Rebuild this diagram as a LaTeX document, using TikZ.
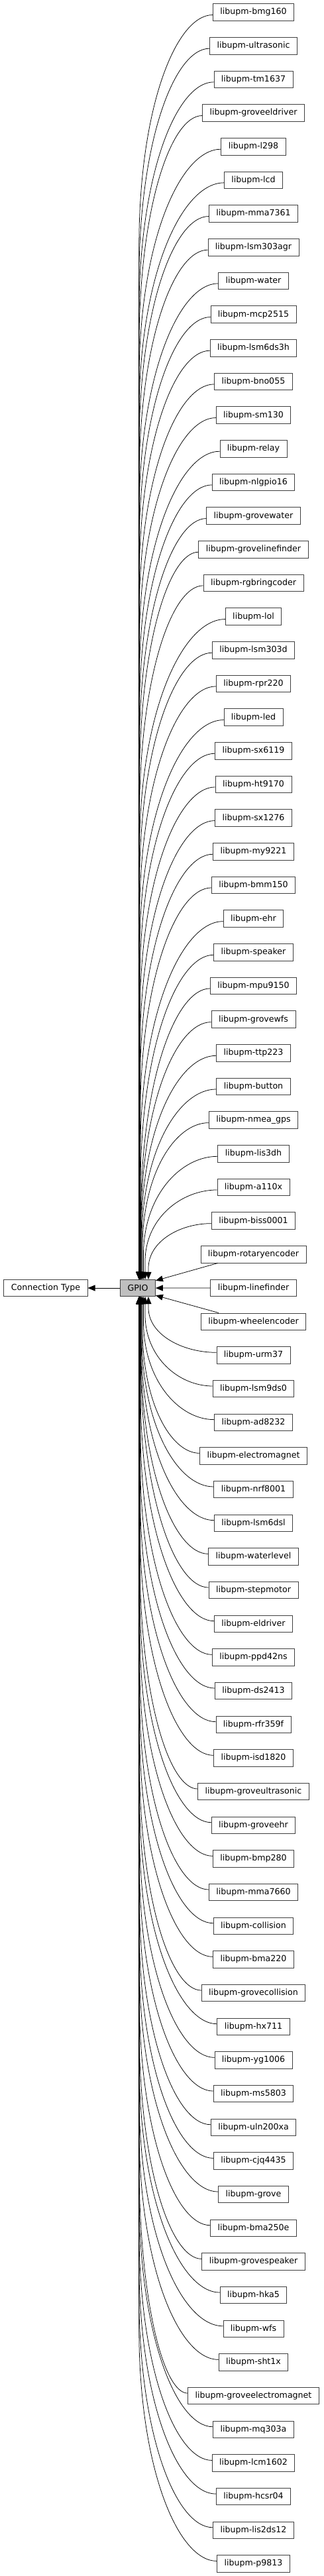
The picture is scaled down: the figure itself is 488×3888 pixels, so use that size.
\documentclass[tikz,border=0pt]{standalone}
\usepackage{fontspec}
\setmainfont{DejaVu Sans}
\usetikzlibrary{calc,arrows.meta}
\begin{document}
\begin{tikzpicture}[x=1pt,y=1pt,
  box/.style={draw=black!75, line width=0.8pt, fill=white, inner xsep=11pt, inner ysep=0pt,
    minimum height=25.5pt, font=\fontsize{12.6}{15}\selectfont, text=black},
  edge/.style={draw=black, line width=0.75pt, -{Triangle[length=11pt,width=9pt]}}]
\useasboundingbox (0,0) rectangle (488,-3888);
\node[box] (ct) at (69,-1944) {Connection Type};
\node[box, fill=black!25] (gpio) at (208,-1944) {GPIO};
\draw[edge] (gpio) -- (ct);
\foreach \nm [count=\i] in {bmg160,ultrasonic,tm1637,groveeldriver,l298,lcd,mma7361,lsm303agr,water,mcp2515,lsm6ds3h,bno055,sm130,relay,nlgpio16,grovewater,grovelinefinder,rgbringcoder,lol,lsm303d,rpr220,led,sx6119,ht9170,sx1276,my9221,bmm150,ehr,speaker,mpu9150,grovewfs,ttp223,button,nmea\_gps,lis3dh,a110x,biss0001,rotaryencoder,linefinder,wheelencoder,urm37,lsm9ds0,ad8232,electromagnet,nrf8001,lsm6dsl,waterlevel,stepmotor,eldriver,ppd42ns,ds2413,rfr359f,isd1820,groveultrasonic,groveehr,bmp280,mma7660,collision,bma220,grovecollision,hx711,yg1006,ms5803,uln200xa,cjq4435,grove,bma250e,grovespeaker,hka5,wfs,sht1x,groveelectromagnet,mq303a,lcm1602,hcsr04,lis2ds12,p9813} {
  \node[box] (n\i) at (382.5,{-(18.5+(\i-1)*50.67)}) {libupm-\nm};
}
% upper edges
\foreach \i in {1,...,37} {
  \pgfmathsetmacro\xt{209+30/(39-\i)}
  \pgfmathsetmacro\sy{-(18.5+(\i-1)*50.67)-4}
  \pgfmathsetmacro\h{min(350,0.8*(\sy+1931))}
  \coordinate (s\i) at ($(n\i.west)+(0,-4)$);
  \coordinate (j\i) at (\xt,{\sy-\h});
  \coordinate (t\i) at ($(gpio.north)+({\xt-208},0)$);
  \draw[edge] (s\i) .. controls ($(s\i)!0.5!(j\i |- s\i)$) and ($(j\i)+(0,{0.6*\h})$) .. (j\i) -- (t\i);
}
% lower edges
\foreach \i in {41,...,77} {
  \pgfmathsetmacro\xt{209+30/(\i-39)}
  \pgfmathsetmacro\sy{-(18.5+(\i-1)*50.67)+4}
  \pgfmathsetmacro\h{min(350,0.8*(-1957-\sy))}
  \coordinate (s\i) at ($(n\i.west)+(0,4)$);
  \coordinate (j\i) at (\xt,{\sy+\h});
  \coordinate (t\i) at ($(gpio.south)+({\xt-208},0)$);
  \draw[edge] (s\i) .. controls ($(s\i)!0.5!(j\i |- s\i)$) and ($(j\i)+(0,{-0.6*\h})$) .. (j\i) -- (t\i);
}
\draw[edge] ($(n38.south west)+(26,0)$) -- ($(gpio.north east)+(0,-2)$);
\draw[edge] (n39.west) -- (gpio.east);
\draw[edge] ($(n40.north west)+(27,0)$) -- ($(gpio.south east)+(0,2)$);
\end{tikzpicture}
\end{document}
